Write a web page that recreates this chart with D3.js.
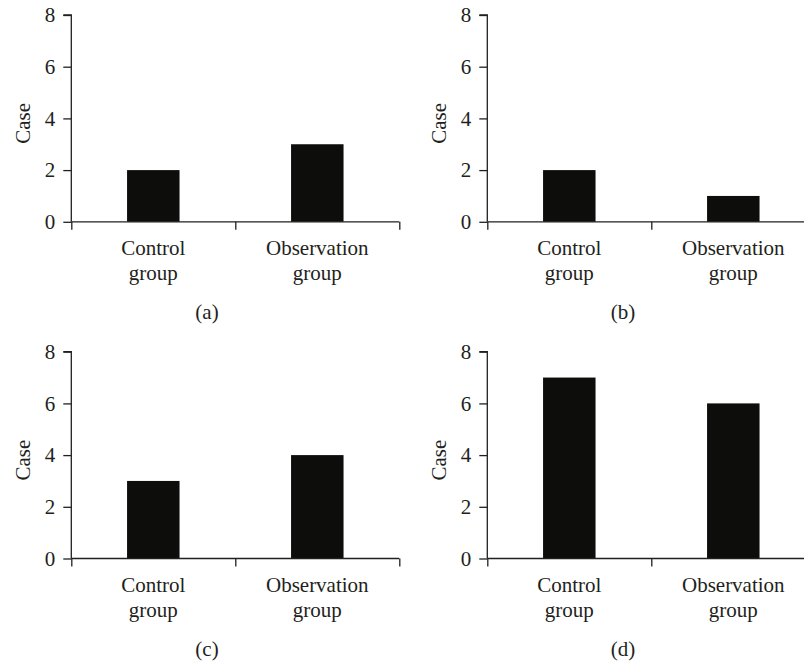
<!DOCTYPE html>
<html>
<head>
<meta charset="utf-8">
<script src="https://cdn.jsdelivr.net/npm/d3@7"></script>
<style>
  body { margin: 0; background: #fff; }
  svg { display: block; }
  text { font-family: "Liberation Serif", "Times New Roman", "DejaVu Serif", serif; fill: #231f20; }
</style>
</head>
<body>
<svg id="chart" width="804" height="663"></svg>
<script>
// ---- data ----
const categories = ["Control group", "Observation group"];
const panelLabels = ["(a)", "(b)", "(c)", "(d)"];
const panelA = [2, 3];
const panelB = [2, 1];
const panelC = [3, 4];
const panelD = [7, 6];
const yTicks = [0, 2, 4, 6, 8];
const yLabel = "Case";

const panels = [
  { values: panelA, label: panelLabels[0], ox: 71.3, oy: 15 },
  { values: panelB, label: panelLabels[1], ox: 487.3, oy: 15 },
  { values: panelC, label: panelLabels[2], ox: 71.3, oy: 351.7 },
  { values: panelD, label: panelLabels[3], ox: 487.3, oy: 351.7 }
];

const W = 328, H = 206.8;
const axisColor = "#231f20";
const barColor = "#0d0d0b";
const fontSize = 21;
const fontFamily = '"Liberation Serif", "Times New Roman", "DejaVu Serif", serif';

const svg = d3.select("#chart");

panels.forEach(p => {
  const g = svg.append("g").attr("transform", `translate(${p.ox},${p.oy})`);

  const x = d3.scaleBand().domain(categories).range([0, W])
    .paddingInner(0.68).paddingOuter(0.34);
  const xb = d3.scaleLinear().domain([0, categories.length]).range([0, W]);
  const y = d3.scaleLinear().domain([0, 8]).range([H, 0]);

  // bars
  g.selectAll("rect.bar").data(p.values).join("rect")
    .attr("class", "bar")
    .attr("x", (d, i) => x(categories[i]))
    .attr("width", x.bandwidth())
    .attr("y", d => y(d))
    .attr("height", d => H - y(d))
    .attr("fill", barColor);

  // y axis
  const ya = g.append("g").call(d3.axisLeft(y).tickValues(yTicks).tickSize(8).tickPadding(8).tickFormat(d3.format("d")));
  ya.attr("font-family", fontFamily).attr("font-size", fontSize);
  ya.select(".domain").attr("d", `M-8,0H0V${H}`).attr("stroke", axisColor).attr("stroke-width", 1.3);
  ya.selectAll(".tick line").attr("stroke", axisColor).attr("stroke-width", 1.3);
  ya.selectAll(".tick text").attr("fill", axisColor);

  // x axis with boundary ticks
  const xa = g.append("g").attr("transform", `translate(0,${H})`)
    .call(d3.axisBottom(xb).tickValues(d3.range(categories.length + 1)).tickSize(8).tickFormat(""));
  xa.select(".domain").attr("d", `M0,0H${W}`).attr("stroke", axisColor).attr("stroke-width", 1.3);
  xa.selectAll(".tick line").attr("stroke", axisColor).attr("stroke-width", 1.3);

  // category labels (two lines)
  categories.forEach(c => {
    const parts = c.split(" ");
    const t = g.append("text")
      .attr("text-anchor", "middle")
      .attr("font-family", fontFamily)
      .attr("font-size", fontSize)
      .attr("transform", `translate(${x(c) + x.bandwidth() / 2},${H + 33.5})`);
    parts.forEach((s, i) => {
      t.append("tspan").attr("x", 0).attr("y", i * 25).text(s);
    });
  });

  // y label
  g.append("text")
    .attr("text-anchor", "middle")
    .attr("font-family", fontFamily)
    .attr("font-size", fontSize)
    .attr("transform", `translate(-41,${H / 2 + 5}) rotate(-90)`)
    .text(yLabel);

  // panel label
  g.append("text")
    .attr("text-anchor", "middle")
    .attr("font-family", fontFamily)
    .attr("font-size", fontSize)
    .attr("x", 135.7)
    .attr("y", H + 97.5)
    .text(p.label);
});
</script>
</body>
</html>
